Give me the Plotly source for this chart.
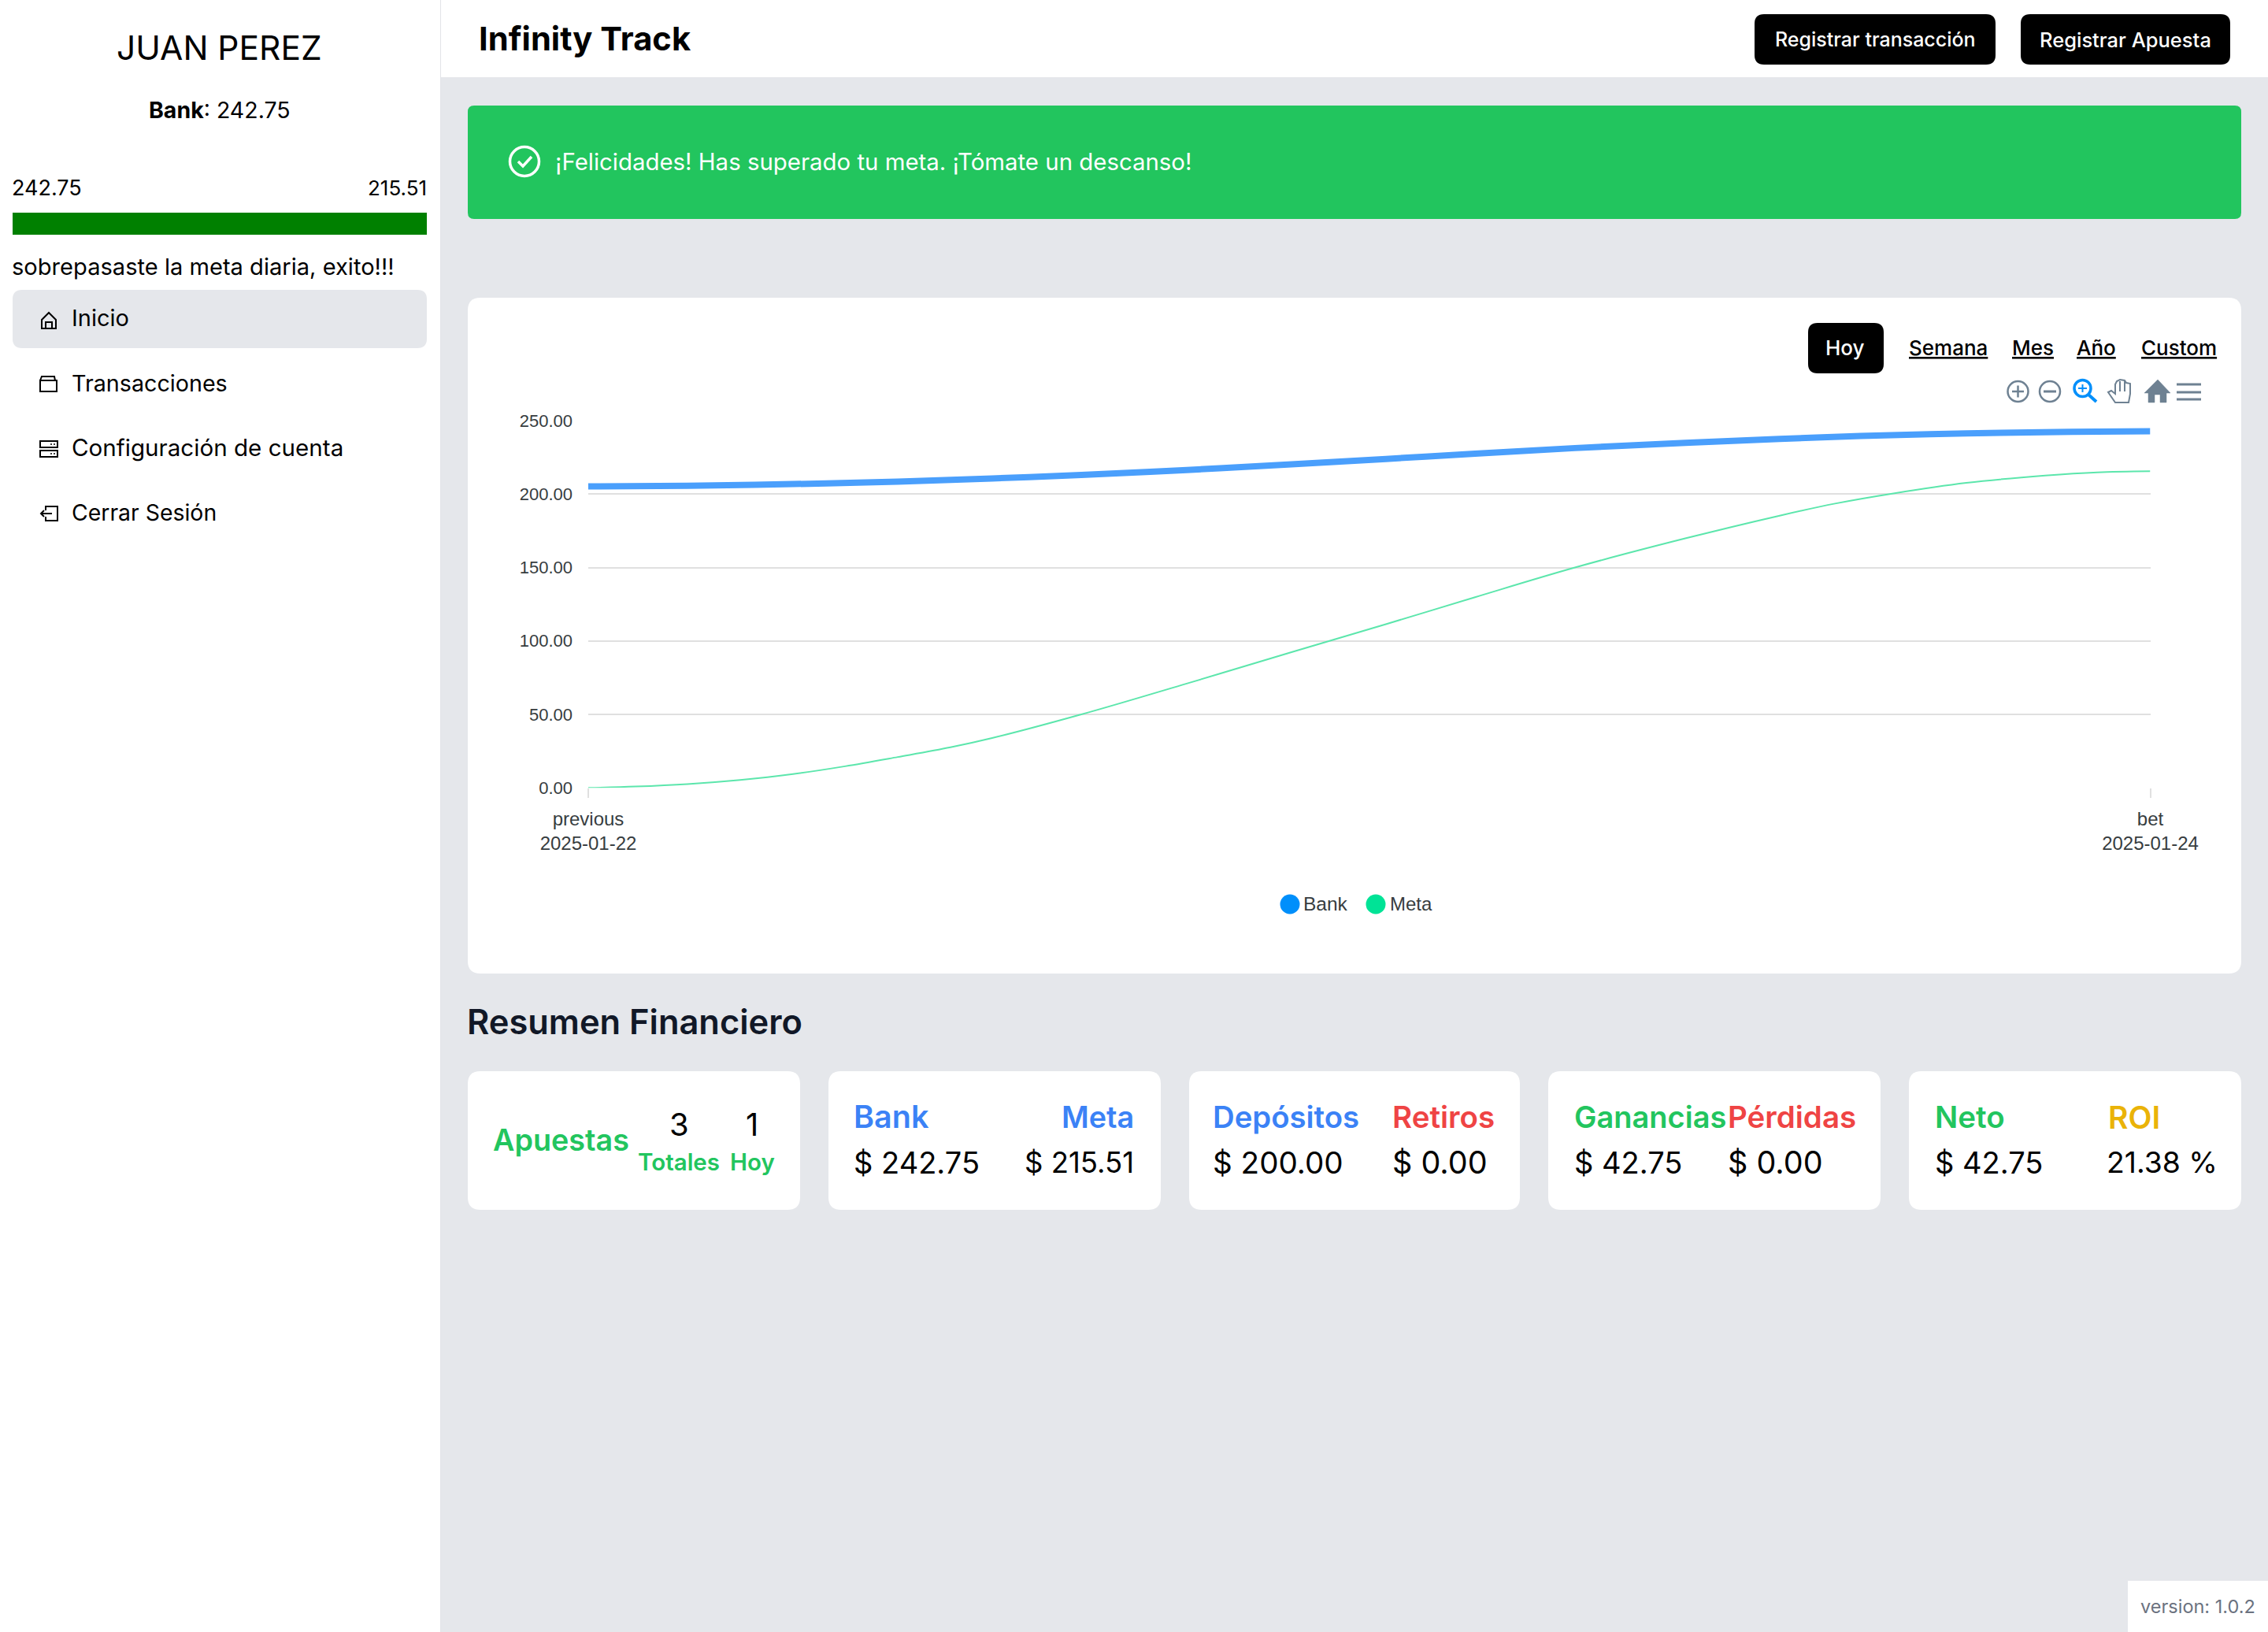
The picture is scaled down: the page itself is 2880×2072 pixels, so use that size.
import re
import plotly.graph_objects as go

W = 2880
H = 2072

# curve values (hours since previous point)
bank_hours = [0, 3.05, 6.29, 9.51, 12.41, 15.15, 18.39, 21.61, 24.51, 27.25, 30.32, 33.71, 36.61, 39.1, 42.35, 45.57, 48]
bank_values = [205.2, 205.7, 206.8, 208.5, 210.6, 213.0, 216.4, 220.2, 223.9, 227.5, 231.3, 234.9, 237.5, 239.5, 241.3, 242.4, 242.75]
meta_hours = [0, 1.45, 3.05, 4.67, 6.29, 7.89, 9.51, 11.13, 12.41, 15.15, 18.39, 21.61, 24.51, 27.25, 30.32, 33.71, 36.61, 38.31, 40.07, 42.35, 44.77, 46.37, 48]
meta_values = [0, 0.9, 2.6, 5.4, 9.4, 14.7, 21.0, 27.6, 33.9, 50.0, 71.0, 92.4, 111.4, 129.8, 150.0, 169.8, 185.3, 193.5, 200.3, 207.6, 212.6, 214.8, 215.51]
x_tick_pos = [0, 48]
x_tick_text = ["previous<br>2025-01-22", "bet<br>2025-01-24"]
y_ticks = [0, 50, 100, 150, 200, 250]

nav_items = ["Inicio", "Transacciones", "Configuración de cuenta", "Cerrar Sesión"]
range_items = ["Semana", "Mes", "Año", "Custom"]

GREEN = "#22C55E"
BLUE = "#3B82F6"
RED = "#EF4444"
YELLOW = "#EAB308"
GREY = "#E5E7EB"
SLATE = "#6E8192"
FONT = "Inter"
CHART_FONT = "Liberation Sans"


def px(x):
    return x / W


def py(y):
    return 1 - y / H


def to_paper(path):
    # path written in screen pixels, numbers go x, y, x, y
    out = []
    is_x = True
    for tok in re.findall(r"[A-Za-z]|-?[\d.]+", path):
        if tok.isalpha():
            out.append(tok)
        else:
            out.append(str(px(float(tok)) if is_x else py(float(tok))))
            is_x = not is_x
    return " ".join(out)


shapes = []
annotations = []


def rect(x0, y0, x1, y1, color, r=0):
    if r == 0:
        p = f"M {x0} {y0} L {x1} {y0} L {x1} {y1} L {x0} {y1} Z"
    else:
        p = (f"M {x0+r} {y0} L {x1-r} {y0} Q {x1} {y0} {x1} {y0+r} L {x1} {y1-r} Q {x1} {y1} {x1-r} {y1} "
             f"L {x0+r} {y1} Q {x0} {y1} {x0} {y1-r} L {x0} {y0+r} Q {x0} {y0} {x0+r} {y0} Z")
    shapes.append(dict(type="path", path=to_paper(p), xref="paper", yref="paper", fillcolor=color, line_width=0, layer="below"))


def stroke(path, color, width=2.5, fill="rgba(0,0,0,0)"):
    shapes.append(dict(type="path", path=to_paper(path), xref="paper", yref="paper", fillcolor=fill,
                       line=dict(color=color, width=width), layer="above"))


def circle(cx, cy, r, color, width=2.5, fill="rgba(0,0,0,0)"):
    shapes.append(dict(type="circle", xref="paper", yref="paper", x0=px(cx - r), x1=px(cx + r), y0=py(cy - r), y1=py(cy + r),
                       fillcolor=fill, line=dict(color=color, width=width), layer="above"))


def txt(x, y, text, size, color="#000000", anchor="left", weight=400, font=FONT):
    annotations.append(dict(x=px(x), y=py(y), xref="paper", yref="paper", text=text, showarrow=False,
                            xanchor=anchor, yanchor="middle", borderpad=0, borderwidth=0,
                            font=dict(family=font, size=size, color=color, weight=weight)))


# page blocks
rect(0, 0, 559, H, "#FFFFFF")
rect(559, 0, 560, H, "#E2E4E8")
rect(560, 0, W, 98, "#FFFFFF")
rect(594, 134, 2846, 278, GREEN, 8)
rect(594, 378, 2846, 1236, "#FFFFFF", 16)
rect(16, 270, 542, 298, "#008000")
rect(16, 368, 542, 442, GREY, 12)
rect(2228, 18, 2534, 82, "#000000", 12)
rect(2566, 18, 2832, 82, "#000000", 12)
rect(2296, 410, 2392, 474, "#000000", 12)
rect(2702, 2007, W, H, "#FFFFFF")
for x0, x1 in [(594, 1016), (1052, 1474), (1510, 1930), (1966, 2388), (2424, 2846)]:
    rect(x0, 1360, x1, 1536, "#FFFFFF", 16)

# sidebar
txt(278.5, 60, "JUAN PEREZ", 42.5, anchor="center")
txt(279, 140, "<b>Bank</b>: 242.75", 28.5, anchor="center")
txt(15, 238, "242.75", 27)
txt(542, 238, "215.51", 26, anchor="right")
txt(15, 338, "sobrepasaste la meta diaria, exito!!!", 29.1)
for label, y, size in zip(nav_items, [404, 486, 568, 650], [29, 28.7, 29.6, 28.4]):
    txt(91, y, label, size)

# sidebar icons
stroke("M 53 406 L 62 397 L 71 406 L 71 417 L 53 417 Z", "#000000", 2)
stroke("M 58 417 L 58 409 L 66 409 L 66 417", "#000000", 2)
stroke("M 51 483 L 72 483 L 72 497 L 51 497 Z M 51 483 L 53 478 L 69 478 L 70 483", "#000000", 2)
stroke("M 51 560 L 73 560 L 73 568 L 51 568 Z M 51 572 L 73 572 L 73 580 L 51 580 Z", "#000000", 2)
stroke("M 64 564 L 66 564 M 68 564 L 70 564 M 64 576 L 66 576 M 68 576 L 70 576", "#000000", 1.5)
stroke("M 58 648 L 58 643 L 73 643 L 73 661 L 58 661 L 58 656 M 52 652 L 66 652 M 56 648 L 52 652 L 56 656", "#000000", 2)

# header
txt(608, 49, "Infinity Track", 41.7, weight=700)
txt(2381, 50, "Registrar transacción", 25, "#FFFFFF", "center", 500)
txt(2699, 50, "Registrar Apuesta", 25.5, "#FFFFFF", "center", 500)

# alert
circle(666, 205, 18.5, "#FFFFFF", 3.5)
stroke("M 658 205 L 664 211 L 675 199", "#FFFFFF", 3.5)
txt(705, 206, "¡Felicidades! Has superado tu meta. ¡Tómate un descanso!", 29.4, "#FFFFFF")

# range selector
txt(2343, 441, "Hoy", 26, "#FFFFFF", "center", 500)
for label, x in zip(range_items, [2473.5, 2581, 2662, 2767]):
    txt(x, 441, f"<u>{label}</u>", 26, "#000000", "center", 500)

# chart toolbar
circle(2562.5, 497, 13, SLATE)
stroke("M 2555 497 L 2570 497 M 2562.5 489.5 L 2562.5 504.5", SLATE)
circle(2603, 497, 13, SLATE)
stroke("M 2595 497 L 2611 497", SLATE, 3)
circle(2644.5, 493, 10.5, "#008FFB", 3.5)
stroke("M 2639 493 L 2650 493 M 2644.5 488 L 2644.5 498", "#008FFB", 2)
stroke("M 2652 501 L 2662 510", "#008FFB", 4)
stroke("M 2686 511 L 2703 511 L 2705 500 L 2705 487 L 2700 486 L 2698 483 L 2692 482 L 2688 484 L 2686 488 "
       "L 2686 500 L 2681 496 L 2677 498 Z M 2692 484 L 2692 497 M 2698 484 L 2698 497", SLATE, 2)
stroke("M 2723 499 L 2740 482 L 2756 499 L 2751 499 L 2751 511 L 2743 511 L 2743 501 L 2736 501 L 2736 511 L 2728 511 L 2728 499 Z",
       SLATE, 0.5, SLATE)
stroke("M 2764 488 L 2795 488 M 2764 498 L 2795 498 M 2764 507 L 2795 507", SLATE, 3)

# chart legend
circle(1638, 1148, 12.5, "#008FFB", 0, "#008FFB")
txt(1655, 1147, "Bank", 24.5, "#373D3F", font=CHART_FONT)
circle(1747, 1148, 12.5, "#00E396", 0, "#00E396")
txt(1765, 1147, "Meta", 24, "#373D3F", font=CHART_FONT)

# summary
txt(593, 1297, "Resumen Financiero", 43.4, "#111827", weight=600)
txt(626, 1447, "Apuestas", 37.7, GREEN, weight=600)
txt(862, 1427, "3", 40, anchor="center")
txt(955, 1427, "1", 40, anchor="center")
txt(862, 1475, "Totales", 29.5, GREEN, "center", 600)
txt(955, 1475, "Hoy", 29.5, GREEN, "center", 600)

TITLE_Y = 1418
VALUE_Y = 1475.5
txt(1083.5, TITLE_Y, "Bank", 39.5, BLUE, weight=600)
txt(1439.5, TITLE_Y, "Meta", 37.7, BLUE, "right", 600)
txt(1083.5, VALUE_Y, "$ 242.75", 38)
txt(1439.5, VALUE_Y, "$ 215.51", 36.5, anchor="right")
txt(1540, TITLE_Y, "Depósitos", 38.3, BLUE, weight=600)
txt(1768.5, TITLE_Y, "Retiros", 38.5, RED, weight=600)
txt(1540, VALUE_Y, "$ 200.00", 38.6)
txt(1768, VALUE_Y, "$ 0.00", 39.5)
txt(1998.5, TITLE_Y, "Ganancias", 38, GREEN, weight=600)
txt(2193.5, TITLE_Y, "Pérdidas", 38.5, RED, weight=600)
txt(1998.5, VALUE_Y, "$ 42.75", 38)
txt(2193.5, VALUE_Y, "$ 0.00", 39.5)
txt(2457, TITLE_Y, "Neto", 38.5, GREEN, weight=600)
txt(2677, TITLE_Y, "ROI", 39, YELLOW, weight=600)
txt(2457, VALUE_Y, "$ 42.75", 38)
txt(2675, VALUE_Y, "21.38 %", 37.3)

txt(2864, 2039, "version: 1.0.2", 23.5, "#6B7280", "right")

fig = go.Figure()
fig.add_trace(go.Scatter(x=bank_hours, y=bank_values, mode="lines", name="Bank",
                         line=dict(color="#4A9FFC", width=8, shape="spline", smoothing=1)))
fig.add_trace(go.Scatter(x=meta_hours, y=meta_values, mode="lines", name="Meta",
                         line=dict(color="#5CE6AC", width=2, shape="spline", smoothing=1)))

fig.update_layout(
    width=W, height=H,
    margin=dict(l=0, r=0, t=0, b=0),
    paper_bgcolor=GREY,
    plot_bgcolor="rgba(0,0,0,0)",
    shapes=shapes,
    annotations=annotations,
    hovermode=False,
    showlegend=False,
    xaxis=dict(domain=[px(747), px(2730.5)], range=[0, 48], tickmode="array", tickvals=x_tick_pos, ticktext=x_tick_text,
               showgrid=False, zeroline=False, automargin=False, ticks="outside", ticklen=12, tickwidth=2, tickcolor="#E0E0E0",
               ticklabelstandoff=6, tickangle=0, tickfont=dict(family=CHART_FONT, size=24, color="#373D3F")),
    yaxis=dict(domain=[py(1000.3), py(534)], range=[0, 250], tickmode="array", tickvals=y_ticks, tickformat=".2f",
               showgrid=True, gridcolor="#E0E0E0", gridwidth=2, zeroline=False, showline=False, automargin=False,
               ticklabelstandoff=19, tickfont=dict(family=CHART_FONT, size=22, color="#373D3F")),
)

fig.write_html("out.html", config=dict(displayModeBar=False), post_script="document.body.style.margin='0';document.body.style.overflow='hidden';")
